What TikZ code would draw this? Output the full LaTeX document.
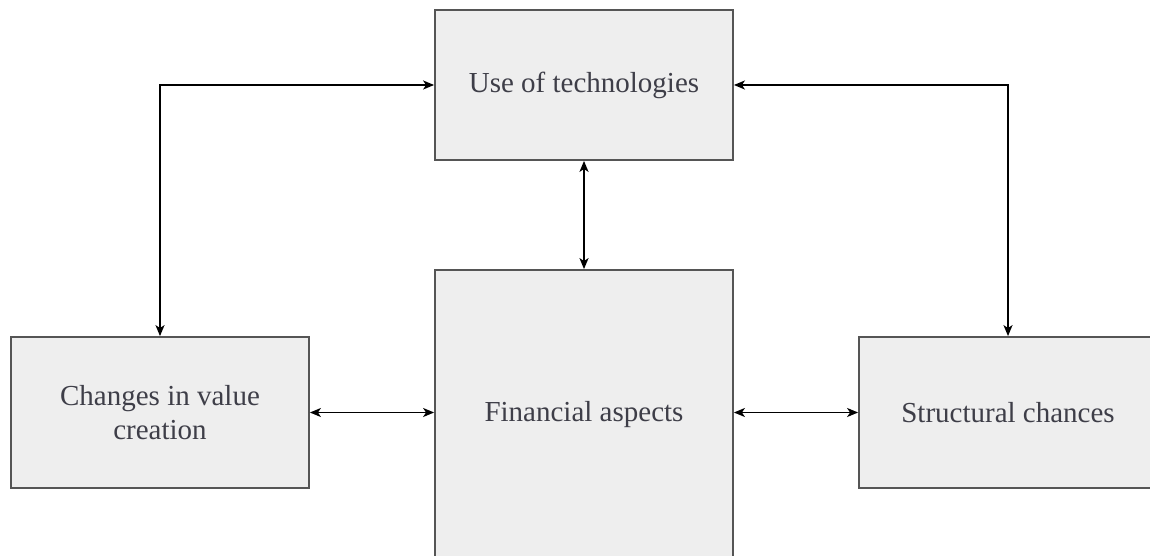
\documentclass[tikz,border=0pt]{standalone}
\usepackage{fontspec}
\setmainfont{Liberation Serif}
\usetikzlibrary{arrows.meta}
\definecolor{boxfill}{RGB}{238,238,238}
\definecolor{boxline}{RGB}{85,85,85}
\definecolor{boxtext}{RGB}{62,62,72}
\begin{document}
\begin{tikzpicture}[x=1pt,y=-1pt,
		box/.style={draw=boxline,line width=1.8pt,fill=boxfill,text=boxtext,
			minimum width=298pt,align=center,inner sep=0pt,
			font=\fontsize{29}{34}\selectfont},
		link/.style={line width=1.8pt,{Stealth[length=11pt,width=9pt,inset=3pt]}-{Stealth[length=11pt,width=9pt,inset=3pt]}}]
		\useasboundingbox (0,0) rectangle (1150,556);
		\begin{scope}
		\clip (0,0) rectangle (1150,556);
		% boxes
		\node [box,minimum height=150pt] (tech) at (584,85) {Use of technologies};
		\node [box,minimum height=290pt] (fin) at (584,415) {Financial aspects};
		\node [box,minimum height=151pt] (value) at (160,412.5) {Changes in value\\creation};
		\node [box,minimum height=151pt] (struct) at (1008,412.5) {Structural chances};
		\end{scope}
		% links
		\draw[link] (value.north) |- (tech.west);
		\draw[link] (struct.north) |- (tech.east);
		\draw[link] (tech.south) -- (fin.north);
		\draw[link] (value.east) -- (value.east -| fin.west);
		\draw[link] (fin.east |- struct.west) -- (struct.west);
	\end{tikzpicture}
\end{document}
